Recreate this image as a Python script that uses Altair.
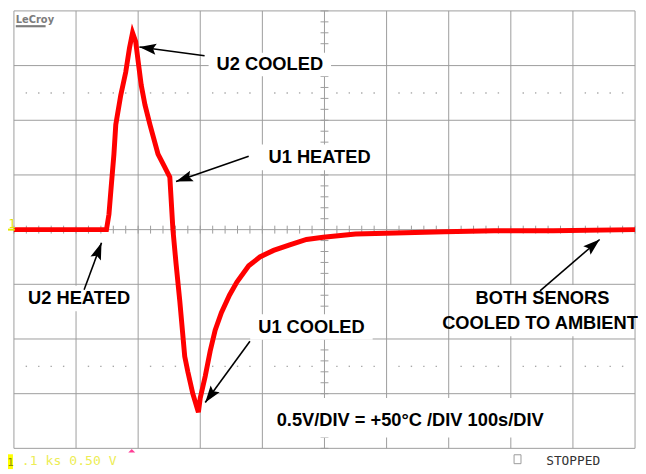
import math
import altair as alt
import pandas as pd

# ---------------- data (time in s, voltage in V; 100 s/div, 0.5 V/div) ----------------
time_s = [0, 149, 153, 157, 161, 164, 172, 180, 186, 191, 196, 200, 205, 211, 219, 232,
          242, 251, 256, 261, 267, 275, 280, 288, 297, 300, 308, 316, 324, 334, 347, 359,
          378, 396, 418, 444, 471, 498, 550, 614, 693, 773, 868, 1000]
volts = [0, 0, 0.14, 0.42, 0.69, 0.96, 1.23, 1.44, 1.66, 1.80, 1.72, 1.54, 1.32, 1.14,
         0.96, 0.69, 0.58, 0.48, 0.00, -0.31, -0.65, -1.16, -1.30, -1.50, -1.67, -1.54,
         -1.34, -1.11, -0.92, -0.76, -0.60, -0.48, -0.33, -0.25, -0.19, -0.14, -0.09,
         -0.07, -0.04, -0.03, -0.02, -0.01, -0.01, 0.0]

# annotation texts and anchors (data units)
labels = ["U2 COOLED", "U1 HEATED", "U2 HEATED", "U1 COOLED", "BOTH SENORS",
          "COOLED TO AMBIENT", "0.5V/DIV = +50°C /DIV 100s/DIV"]
label_t = [412, 492, 105, 479, 851, 847, 638]
label_v = [1.51, 0.66, -0.63, -0.89, -0.63, -0.85, -1.74]

# white boxes behind labels: centre (data) and size (px)
box_t = [412, 492, 105, 479, 849, 637]
box_v = [1.51, 0.66, -0.63, -0.89, -0.74, -1.72]
box_w = [124, 122, 112, 124, 184, 290]
box_h = [24, 26, 26, 26, 52, 40]

# arrows: tail -> tip (data units)
arrow_t0 = [307, 378, 113, 380, 847]
arrow_v0 = [1.59, 0.67, -0.55, -1.02, -0.56]
arrow_t1 = [202, 261, 141, 308, 943]
arrow_v1 = [1.67, 0.44, -0.12, -1.58, -0.09]

status_left = ".1 ks 0.50 V"
status_right = "STOPPED"

# ---------------- layout ----------------
W, H = 629, 443
X_DOM = [0, 1000]
Y_DOM = [-2, 2]
sx = W / (X_DOM[1] - X_DOM[0])
sy = H / (Y_DOM[1] - Y_DOM[0])
GRID = "#9c9c9c"
FONT = "Liberation Sans"

xs = alt.Scale(domain=X_DOM, nice=False, zero=False)
ys = alt.Scale(domain=Y_DOM, nice=False, zero=False)


def X(f):
    return alt.X(f, type="quantitative", scale=xs, axis=None)


def Y(f):
    return alt.Y(f, type="quantitative", scale=ys, axis=None)


major_t = list(range(0, 1001, 100))
major_v = [-2, -1.5, -1, -0.5, 0, 0.5, 1, 1.5, 2]
minor_t = list(range(0, 1001, 20))
minor_v = [round(i * 0.1, 2) for i in range(-20, 21)]
dot_t = [t for t in range(20, 1000, 20) if t % 100]
dot_rows = [1.25, -1.25]

tick_hx = 4 / sx
tick_hy = 4 / sy

grid_v = alt.Chart(pd.DataFrame({"t": major_t})).mark_rule(color=GRID, strokeWidth=1).encode(
    x=X("t"), y=alt.value(0), y2=alt.value(H))
grid_h = alt.Chart(pd.DataFrame({"v": major_v})).mark_rule(color=GRID, strokeWidth=1).encode(
    y=Y("v"), x=alt.value(0), x2=alt.value(W))

ticks_x = alt.Chart(pd.DataFrame({"t": minor_t, "a": [-tick_hy] * len(minor_t),
                                  "b": [tick_hy] * len(minor_t)})).mark_rule(
    color=GRID, strokeWidth=1).encode(x=X("t"), y=Y("a"), y2=alt.Y2("b"))
ticks_y = alt.Chart(pd.DataFrame({"v": minor_v, "a": [500 - tick_hx] * len(minor_v),
                                  "b": [500 + tick_hx] * len(minor_v)})).mark_rule(
    color=GRID, strokeWidth=1).encode(y=Y("v"), x=X("a"), x2=alt.X2("b"))

dots_df = pd.DataFrame({"t": [t for r in dot_rows for t in dot_t],
                        "v": [r for r in dot_rows for _ in dot_t]})
dots = alt.Chart(dots_df).mark_square(size=2, color="#a8a8a8", opacity=1).encode(
    x=X("t"), y=Y("v"))

trace = alt.Chart(pd.DataFrame({"t": time_s, "v": volts})).mark_line(
    color="#ff0000", strokeWidth=5, strokeJoin="miter", strokeCap="butt").encode(
    x=X("t"), y=Y("v"), order="t:Q")

boxes_df = pd.DataFrame({
    "t0": [t - w / 2 / sx for t, w in zip(box_t, box_w)],
    "t1": [t + w / 2 / sx for t, w in zip(box_t, box_w)],
    "v0": [v - h / 2 / sy for v, h in zip(box_v, box_h)],
    "v1": [v + h / 2 / sy for v, h in zip(box_v, box_h)],
})
boxes = alt.Chart(boxes_df).mark_rect(color="white", opacity=1).encode(
    x=X("t0"), x2=alt.X2("t1"), y=Y("v0"), y2=alt.Y2("v1"))

texts = alt.Chart(pd.DataFrame({"label": labels, "t": label_t, "v": label_v})).mark_text(
    font=FONT, fontWeight="bold", fontSize=18.5, color="black", align="center",
    baseline="middle").encode(x=X("t"), y=Y("v"), text="label:N")

arrow_df = pd.DataFrame({"t0": arrow_t0, "v0": arrow_v0, "t1": arrow_t1, "v1": arrow_v1})
arrow_df["ang"] = [
    math.degrees(math.atan2((b - a) * sx, (d - c) * sy)) % 360
    for a, b, c, d in zip(arrow_t0, arrow_t1, arrow_v0, arrow_v1)
]
shafts = alt.Chart(arrow_df).mark_rule(color="black", strokeWidth=1.6).encode(
    x=X("t0"), x2=alt.X2("t1"), y=Y("v0"), y2=alt.Y2("v1"))
heads = alt.Chart(arrow_df).mark_point(
    shape="M0,0L-0.33,1L0,0.82L0.33,1Z", size=1156, filled=True, color="black",
    opacity=1, strokeWidth=0).encode(
    x=X("t1"), y=Y("v1"), angle=alt.Angle("ang:Q", scale=None))

# LeCroy logo
logo_df = pd.DataFrame({"t": [3], "v": [1.885], "label": ["LeCroy"]})
logo = alt.Chart(logo_df).mark_text(font="DejaVu Sans", fontWeight="bold", fontSize=10,
                                    color="#7c7c7c", align="left", baseline="alphabetic").encode(
    x=X("t"), y=Y("v"), text="label:N")
logo_line = alt.Chart(pd.DataFrame({"a": [3], "b": [51], "v": [1.86]})).mark_rule(
    color="#7c7c7c", strokeWidth=2.2).encode(x=X("a"), x2=alt.X2("b"), y=Y("v"))

# channel-1 marker at the left
ch_df = pd.DataFrame({"v": [0], "label": ["1"]})
ch_text = alt.Chart(ch_df).mark_text(font="DejaVu Sans Mono", fontSize=12, color="#e6e600",
                                     align="left", baseline="alphabetic", dy=-2).encode(
    x=alt.value(-5.5), y=Y("v"), text="label:N")
ch_line = alt.Chart(ch_df).mark_rule(color="#e6e600", strokeWidth=2).encode(
    x=alt.value(-6), x2=alt.value(1), y=Y("v"))

# status bar
sb_box = alt.Chart(pd.DataFrame({"k": [0]})).mark_rect(color="#ffff00", opacity=1).encode(
    x=alt.value(-6), x2=alt.value(-1), y=alt.value(449), y2=alt.value(464))
sb_one = alt.Chart(pd.DataFrame({"label": ["1"]})).mark_text(
    font="DejaVu Sans Mono", fontSize=11, color="#8f8f00", align="center",
    baseline="alphabetic").encode(x=alt.value(-3.5), y=alt.value(461), text="label:N")
sb_left = alt.Chart(pd.DataFrame({"label": [status_left]})).mark_text(
    font="DejaVu Sans Mono", fontSize=13.3, color="#eded55", align="left",
    baseline="alphabetic").encode(x=alt.value(8), y=alt.value(460), text="label:N")
trig = alt.Chart(pd.DataFrame({"k": [0]})).mark_point(
    shape="M-1,0.5L1,0.5L0,-0.5Z", size=49, filled=True, color="#ff3d96", opacity=1,
    strokeWidth=0).encode(x=alt.value(119.3), y=alt.value(445.5))
chk = alt.Chart(pd.DataFrame({"k": [0]})).mark_rect(
    stroke="#9a9a9a", strokeWidth=1, fillOpacity=0).encode(
    x=alt.value(506.5), x2=alt.value(513.5), y=alt.value(449.5), y2=alt.value(458.5))
sb_right = alt.Chart(pd.DataFrame({"label": [status_right]})).mark_text(
    font="DejaVu Sans Mono", fontSize=13, color="#333333", align="left",
    baseline="alphabetic").encode(x=alt.value(539), y=alt.value(460), text="label:N")

chart = alt.layer(
    grid_v, grid_h, ticks_x, ticks_y, dots, trace, boxes, texts, shafts, heads,
    logo, logo_line, ch_line, ch_text, sb_box, sb_one, sb_left, trig, chk, sb_right,
).properties(
    width=W, height=H,
    padding={"left": 6, "top": 0, "right": 3, "bottom": 21},
    autosize=alt.AutoSizeParams(type="none"),
    background="white",
).configure_view(strokeWidth=0)

chart.save("out.html", embed_options={"renderer": "svg", "actions": False})
